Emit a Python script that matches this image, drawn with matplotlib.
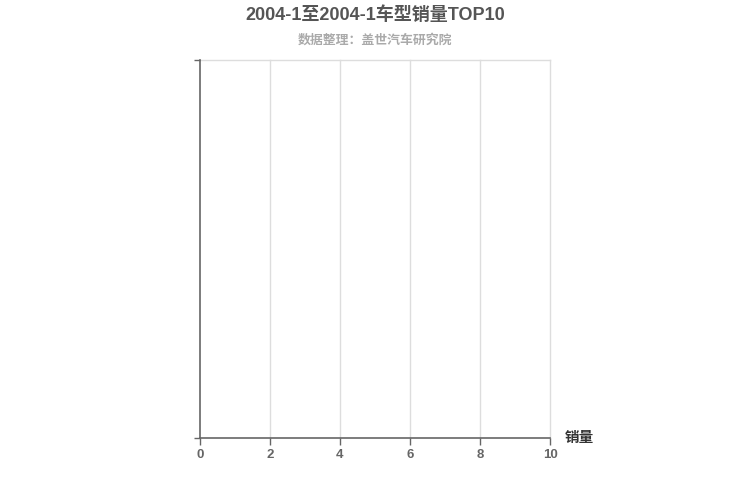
import matplotlib
matplotlib.use('Agg')
import matplotlib.pyplot as plt

plt.rcParams['font.family'] = ['Liberation Sans', 'Noto Sans CJK SC', 'DejaVu Sans']

# chart has no data rows, only an empty value axis
title = "2004-1至2004-1车型销量TOP10"
subtitle = "数据整理：盖世汽车研究院"
models = []
sales = []
x_ticks = [0, 2, 4, 6, 8, 10]
x_name = "销量"

fig = plt.figure(figsize=(7.5, 5), dpi=100)
ax = fig.add_axes([200/750, 1 - 438/500, 350/750, 378/500])

ax.barh(models, sales, color='#c23531')
ax.set_xlim(0, 10)
ax.set_ylim(0, 1)
ax.set_xticks(x_ticks)
ax.set_xticklabels([str(t) for t in x_ticks], color='#666666', fontsize=9.5, fontweight='bold')
ax.set_yticks([0, 1])
ax.set_yticklabels([])
ax.tick_params(axis='x', length=5, width=1, color='#666666', pad=3)
ax.tick_params(axis='y', length=4, width=1, color='#666666')

for t in x_ticks[1:]:
    ax.axvline(t, color='#dddddd', lw=1, zorder=0, clip_on=False)
ax.axhline(1, color='#dddddd', lw=1, zorder=0, clip_on=False)

for s in ['top', 'right']:
    ax.spines[s].set_visible(False)
ax.spines['left'].set_color('#666666')
ax.spines['bottom'].set_color('#666666')
ax.spines['left'].set_linewidth(1.2)
ax.spines['bottom'].set_linewidth(1.2)

fig.text(0.5, 1 - 15/500, title, ha='center', va='center', fontsize=13,
         fontweight='bold', color='#555555')
fig.text(0.5, 1 - 40/500, subtitle, ha='center', va='center', fontsize=9.3,
         fontweight='bold', color='#aaaaaa')
fig.text(565/750, 1 - 438/500, x_name, ha='left', va='center', fontsize=10.5,
         fontweight='bold', color='#333333')

fig.savefig('out.png', dpi=100)
